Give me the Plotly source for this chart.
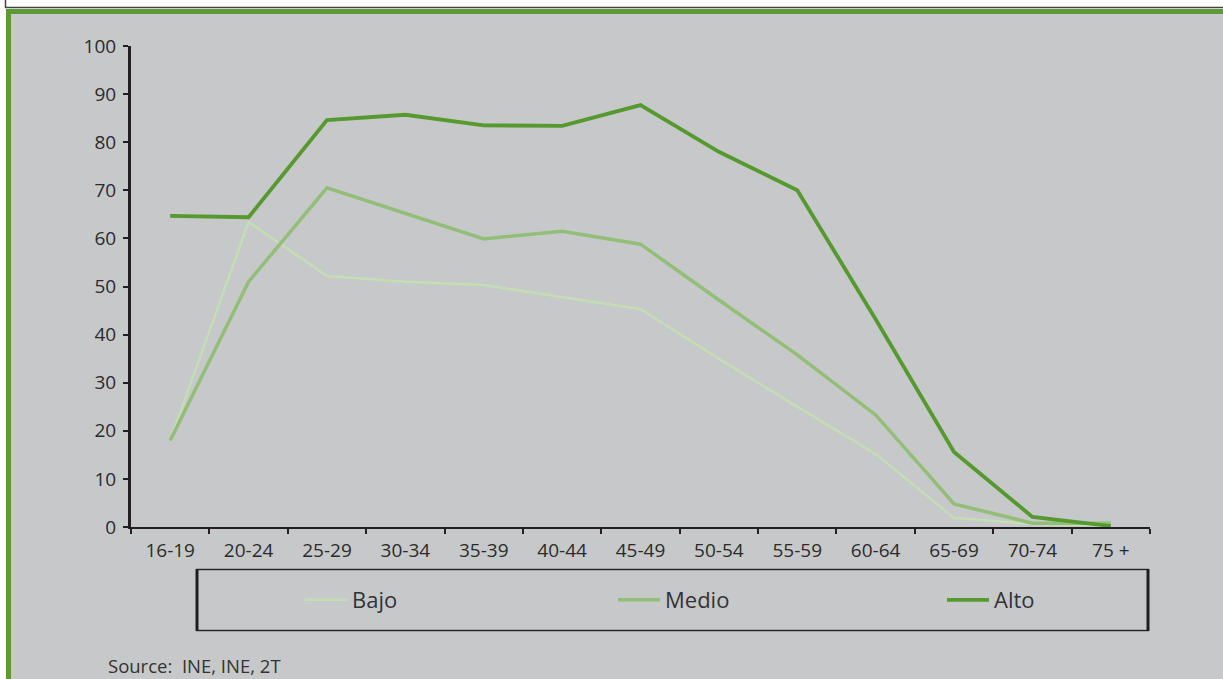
import plotly.graph_objects as go

# Age groups and activity rate (%) by education level
age_groups = ["16-19", "20-24", "25-29", "30-34", "35-39", "40-44", "45-49",
              "50-54", "55-59", "60-64", "65-69", "70-74", "75 +"]
bajo = [18.0, 63.4, 52.2, 51.0, 50.3, 47.8, 45.3, 35.0, 25.0, 15.2, 1.9, 0.6, 0.3]
medio = [18.0, 51.0, 70.5, 65.2, 59.9, 61.5, 58.8, 47.2, 35.8, 23.3, 4.8, 0.8, 0.8]
alto = [64.7, 64.4, 84.6, 85.7, 83.5, 83.4, 87.7, 78.0, 70.0, 43.2, 15.6, 2.1, 0.2]

series_names = ["Bajo", "Medio", "Alto"]
series_colors = ["#c4deb4", "#92be78", "#56992f"]
series_widths = [2.4, 3.5, 3.8]

W, H = 1223, 679
L, R, T, B = 131, 73, 46, 152
PW, PH = W - L - R, H - T - B


def px_x(px):
    return (px - L) / PW


def px_y(py):
    return (H - B - py) / PH


fig = go.Figure()

legend_ids = ["legend", "legend2", "legend3"]
for name, vals, col, lw, lg in zip(series_names, [bajo, medio, alto],
                                   series_colors, series_widths, legend_ids):
    fig.add_trace(go.Scatter(
        x=age_groups, y=vals, name=name, mode="lines",
        line=dict(color=col, width=lw), legend=lg, showlegend=True,
    ))

font_family = "Open Sans, DejaVu Sans, sans-serif"
text_color = "#2b2b2b"
legend_common = dict(
    orientation="h", bgcolor="rgba(0,0,0,0)", borderwidth=0,
    yanchor="middle", xanchor="left", visible=True,
    font=dict(family=font_family, size=22, color="#333333"),
    itemwidth=42,
)

shapes = [
    # gray panel with green frame
    dict(type="rect", xref="paper", yref="paper", layer="below",
         x0=px_x(8.5), x1=px_x(1240), y0=px_y(11.5), y1=px_y(700),
         fillcolor="#c7c8ca", line=dict(color="#5e9a34", width=5)),
    # white box at the top edge
    dict(type="rect", xref="paper", yref="paper", layer="below",
         x0=px_x(5.5), x1=px_x(1240), y0=px_y(-20), y1=px_y(7.5),
         fillcolor="#ffffff", line=dict(color="#444444", width=1.5)),
    # legend frame
    dict(type="rect", xref="paper", yref="paper", layer="above",
         x0=px_x(197), x1=px_x(1148), y0=px_y(569.5), y1=px_y(630.5),
         fillcolor="rgba(0,0,0,0)", line=dict(color="#2a2a2a", width=1.5)),
    dict(type="line", xref="paper", yref="paper", layer="above",
         x0=px_x(197), x1=px_x(197), y0=px_y(569), y1=px_y(631),
         line=dict(color="#1e1e1e", width=3)),
    dict(type="line", xref="paper", yref="paper", layer="above",
         x0=px_x(1148), x1=px_x(1148), y0=px_y(569), y1=px_y(631),
         line=dict(color="#1e1e1e", width=3)),
]

fig.update_layout(
    width=W, height=H,
    margin=dict(l=L, r=R, t=T, b=B),
    paper_bgcolor="#ffffff",
    plot_bgcolor="rgba(0,0,0,0)",
    showlegend=True,
    shapes=shapes,
    legend=dict(legend_common, x=px_x(300), y=px_y(600)),
    legend2=dict(legend_common, x=px_x(613), y=px_y(600)),
    legend3=dict(legend_common, x=px_x(942), y=px_y(600)),
    xaxis=dict(
        type="category", range=[-0.5, len(age_groups) - 0.5],
        showgrid=False, zeroline=False,
        showline=True, linecolor="#231f20", linewidth=2,
        ticks="outside", tickson="boundaries", ticklen=5, tickwidth=1.5,
        tickcolor="#231f20", ticklabelstandoff=5,
        tickfont=dict(family=font_family, size=19, color=text_color),
    ),
    yaxis=dict(
        range=[0, 100], dtick=10,
        showgrid=False, zeroline=False,
        showline=True, linecolor="#231f20", linewidth=3,
        ticks="outside", ticklen=5, tickwidth=1.5, tickcolor="#231f20",
        ticklabelstandoff=3,
        tickfont=dict(family=font_family, size=19, color=text_color),
    ),
    annotations=[
        dict(text="Source:  INE, INE, 2T", xref="paper", yref="paper",
             x=px_x(106), y=px_y(665), xanchor="left", yanchor="middle",
             showarrow=False,
             font=dict(family=font_family, size=18.5, color="#333333")),
    ],
)

fig.write_html("out.html")
